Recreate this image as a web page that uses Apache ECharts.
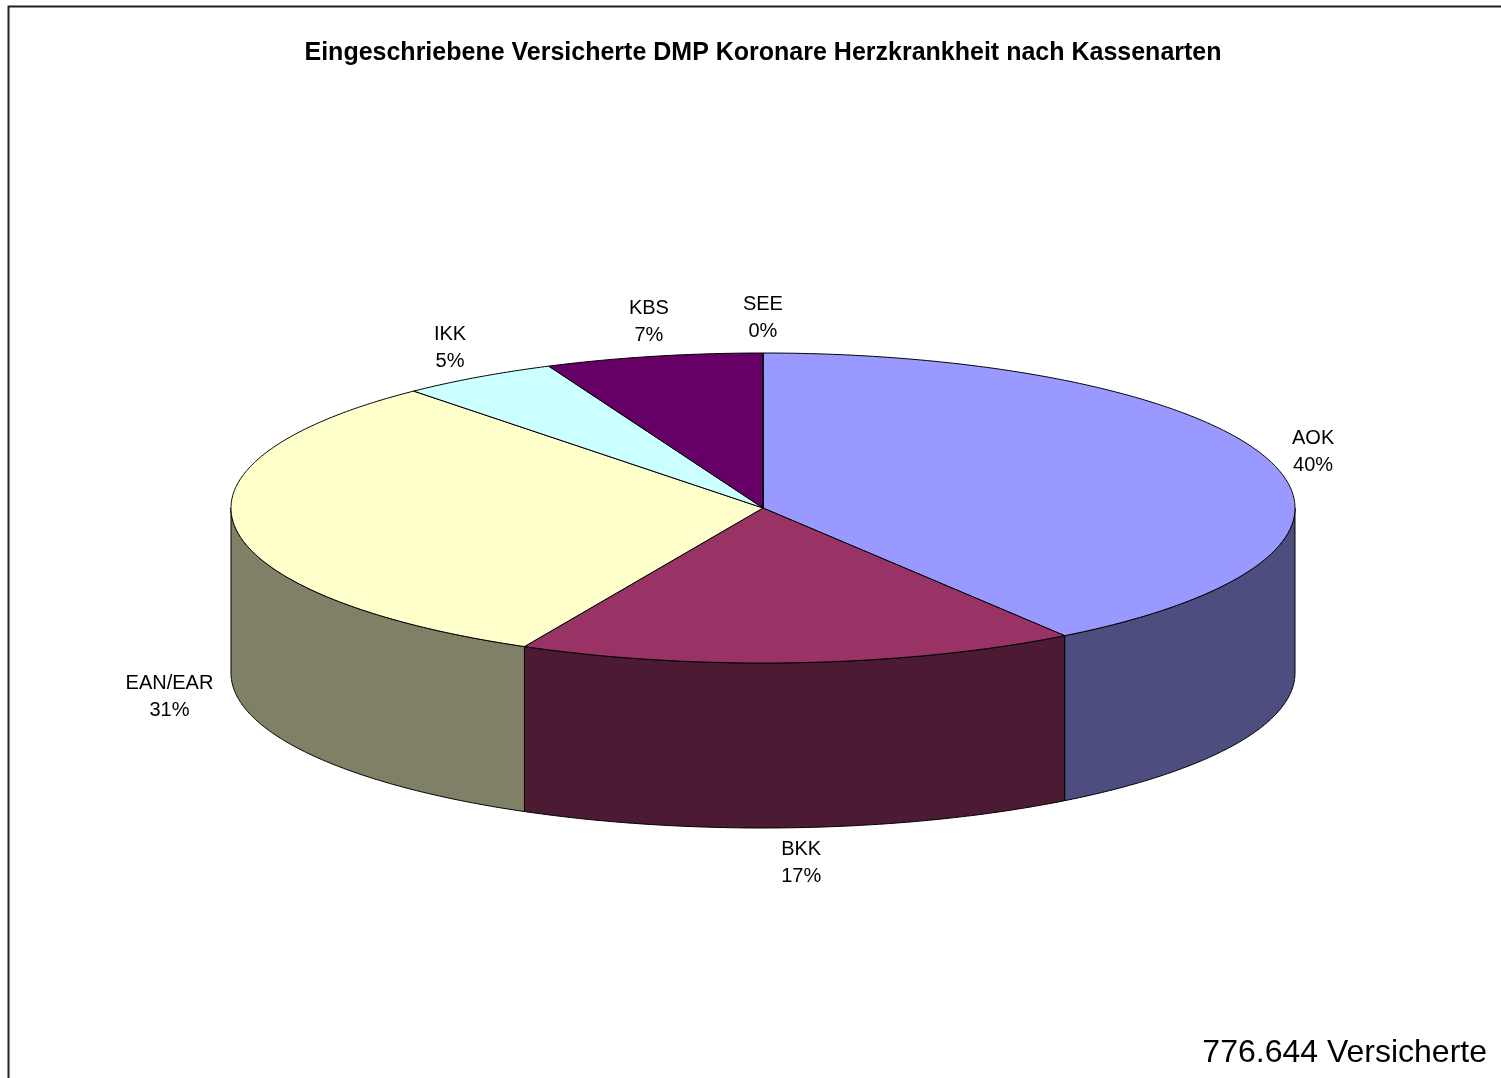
<!DOCTYPE html>
<html>
<head>
<meta charset="utf-8">
<title>DMP Koronare Herzkrankheit</title>
<script src="https://cdn.jsdelivr.net/npm/echarts@6/dist/echarts.min.js"></script>
<style>
  html, body { margin: 0; padding: 0; background: #fff; }
  #chart { width: 1501px; height: 1078px; }
</style>
</head>
<body>
<div id="chart"></div>
<script>
// Kassenarten, clockwise from 12 o'clock
const categories = ["AOK", "BKK", "EAN/EAR", "IKK", "KBS", "SEE"];
const insured = [313800, 132000, 242300, 37300, 51200, 44];
const topColors = ["#9999FF", "#993366", "#FFFFCC", "#CCFFFF", "#660066", "#FFFFFF"];
const sideColors = ["#4D4D80", "#4C1A33", "#808066", "#668080", "#330033", "#808080"];
const chartTitle = "Eingeschriebene Versicherte DMP Koronare Herzkrankheit nach Kassenarten";
const footerText = "776.644 Versicherte";

const total = insured.reduce((a, b) => a + b, 0);
const starts = [];
let acc = 0;
insured.forEach((v) => {
  starts.push(acc / total * 360);
  acc += v;
});

// pie geometry (pixels)
const cx = 763, cy = 508, rx = 532, ry = 155, depth = 165;
const labelFont = "20px 'Liberation Sans', Arial, sans-serif";
const rad = (d) => d * Math.PI / 180;
const pt = (deg, dy) => [cx + rx * Math.sin(rad(deg)), cy - ry * Math.cos(rad(deg)) + (dy || 0)];

const measure = document.createElement("canvas").getContext("2d");
measure.font = labelFont;
const blockWidth = (lines) => Math.max(...lines.map((l) => measure.measureText(l).width));

const arc = (a0, a1, dy) => {
  const pts = [];
  const steps = Math.max(2, Math.ceil((a1 - a0) / 0.5));
  for (let i = 0; i <= steps; i++) pts.push(pt(a0 + (a1 - a0) * i / steps, dy));
  return pts;
};

const renderItem = (params, api) => {
  const i = params.dataIndex;
  const a0 = starts[i];
  const a1 = a0 + api.value(0) / total * 360;
  const children = [];

  // front wall (visible between 90° and 270°)
  const s = Math.max(a0, 90), e = Math.min(a1, 270);
  if (e > s) {
    const upper = arc(s, e, 0);
    const lower = arc(s, e, depth).reverse();
    children.push({
      type: "polygon",
      z2: 1,
      shape: { points: upper.concat(lower) },
      style: { fill: sideColors[i], stroke: "#000", lineWidth: 1 }
    });
  }

  // top face
  children.push({
    type: "polygon",
    z2: 5,
    shape: { points: [[cx, cy]].concat(arc(a0, a1, 0)) },
    style: { fill: topColors[i], stroke: "#000", lineWidth: 1 }
  });

  // label: block anchored beside the slice, lines centred in the block
  const mid = (a0 + a1) / 2;
  const sn = Math.sin(rad(mid)), cs = Math.cos(rad(mid));
  const pct = Math.round(api.value(0) / total * 100) + "%";
  const lines = [categories[i], pct];
  const w = blockWidth(lines);
  let lx = cx + (rx + 22) * sn;
  if (sn > 0.3) lx += w / 2;
  else if (sn < -0.3) lx -= w / 2;
  const ly = cy - (ry + 35) * cs + (cs < 0 ? depth : 0);
  children.push({
    type: "text",
    z2: 10,
    x: lx,
    y: ly,
    style: {
      text: lines.join("\n"),
      align: "center",
      verticalAlign: "middle",
      fill: "#000",
      font: labelFont,
      lineHeight: 27
    }
  });

  return { type: "group", children: children };
};

const chart = echarts.init(document.getElementById("chart"));
chart.setOption({
  backgroundColor: "#fff",
  animation: false,
  graphic: [
    {
      type: "rect",
      shape: { x: 8.5, y: 6.5, width: 1600, height: 1200 },
      style: { fill: "none", stroke: "#222", lineWidth: 2 }
    },
    {
      type: "text",
      x: 763,
      y: 53,
      style: {
        text: chartTitle,
        align: "center",
        verticalAlign: "middle",
        fill: "#000",
        font: "bold 25px 'Liberation Sans', Arial, sans-serif"
      }
    },
    {
      type: "text",
      x: 1487,
      y: 1053,
      style: {
        text: footerText,
        align: "right",
        verticalAlign: "middle",
        fill: "#000",
        font: "32px 'Liberation Sans', Arial, sans-serif"
      }
    }
  ],
  series: [
    {
      type: "custom",
      coordinateSystem: "none",
      renderItem: renderItem,
      data: insured.map((v) => [v])
    }
  ]
});

window.addEventListener("resize", () => chart.resize());
</script>
</body>
</html>
